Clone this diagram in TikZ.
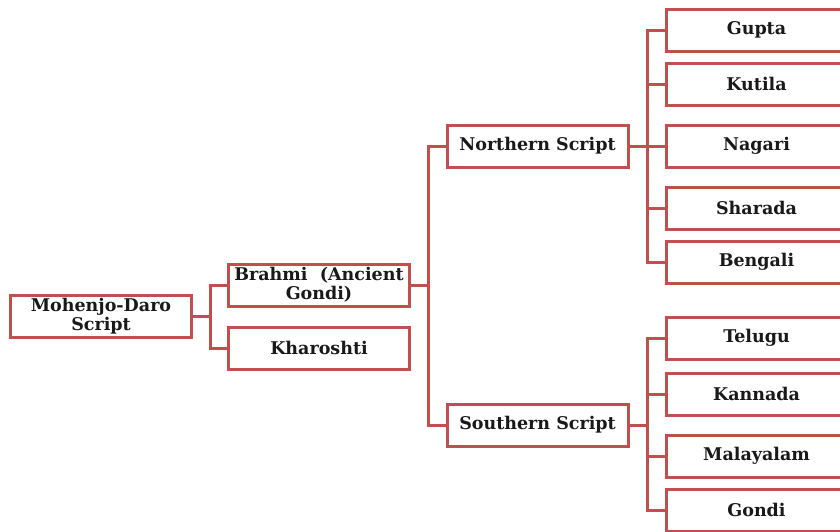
\documentclass[tikz,border=0pt]{standalone}
\usepackage{fontspec}
\setmainfont{DejaVu Serif}
\definecolor{scriptred}{HTML}{C0504D}
\tikzset{
  scriptbox/.style={draw=scriptred, line width=3pt, fill=white,
    minimum width=181pt, minimum height=42pt, inner sep=1pt, align=center,
    text=black!90, font=\fontsize{17.5}{19}\selectfont\bfseries},
  link/.style={draw=scriptred, line width=3pt},
}
\begin{document}
\begin{tikzpicture}[x=1pt, y={(0pt,-1pt)}]
    \clip (0,0) rectangle (840,531);
    % coordinates for the buses
    \coordinate (busone)   at (210, 0);
    \coordinate (bustwo)   at (428, 0);
    \coordinate (busthree) at (647, 0);
    % first and second level
    \node[scriptbox] (mohenjo)   at (101, 316) {Mohenjo-Daro\\Script};
    \node[scriptbox] (brahmi)    at (319, 285) {Brahmi~ (Ancient\\Gondi)};
    \node[scriptbox] (kharoshti) at (319, 348) {Kharoshti};
    % third level
    \node[scriptbox] (northern)  at (537.5, 146) {Northern Script};
    \node[scriptbox] (southern)  at (537.5, 425) {Southern Script};
    % fourth level
    \node[scriptbox] (gupta)     at (756.5, 30)  {Gupta};
    \node[scriptbox] (kutila)    at (756.5, 84)  {Kutila};
    \node[scriptbox] (nagari)    at (756.5, 146) {Nagari};
    \node[scriptbox] (sharada)   at (756.5, 208) {Sharada};
    \node[scriptbox] (bengali)   at (756.5, 262) {Bengali};
    \node[scriptbox] (telugu)    at (756.5, 338) {Telugu};
    \node[scriptbox] (kannada)   at (756.5, 394) {Kannada};
    \node[scriptbox] (malayalam) at (756.5, 456) {Malayalam};
    \node[scriptbox] (gondi)     at (756.5, 510) {Gondi};
    % connectors
    \foreach \child in {brahmi, kharoshti}
      \draw[link] (mohenjo.east) -- (mohenjo.east -| busone) |- (\child.west);
    \foreach \child in {northern, southern}
      \draw[link] (brahmi.east) -- (brahmi.east -| bustwo) |- (\child.west);
    \foreach \child in {gupta, kutila, nagari, sharada, bengali}
      \draw[link] (northern.east) -- (northern.east -| busthree) |- (\child.west);
    \foreach \child in {telugu, kannada, malayalam, gondi}
      \draw[link] (southern.east) -- (southern.east -| busthree) |- (\child.west);
  \end{tikzpicture}
\end{document}
